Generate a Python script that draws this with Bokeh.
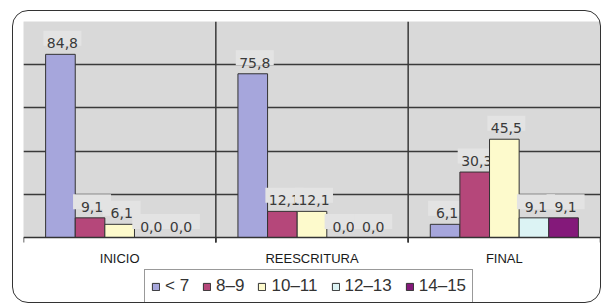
from bokeh.plotting import figure
from bokeh.models import (Range1d, FixedTicker, Legend, LegendItem, ColumnDataSource, Grid,
                          InlineStyleSheet, BoxAnnotation, Span)
from bokeh.transform import dodge
from bokeh.core.properties import value
from bokeh.embed import file_html
from bokeh.resources import INLINE

categories = ["INICIO", "REESCRITURA", "FINAL"]
series_names = ["< 7", "8–9", "10–11", "12–13", "14–15"]
s_lt7 = [84.8, 75.8, 6.1]
s_8_9 = [9.1, 12.1, 30.3]
s_10_11 = [6.1, 12.1, 45.5]
s_12_13 = [0.0, 0.0, 9.1]
s_14_15 = [0.0, 0.0, 9.1]
series_values = [s_lt7, s_8_9, s_10_11, s_12_13, s_14_15]
colors = ["#a6a6dc", "#b5477a", "#fdfacc", "#dcf3f4", "#84197a"]
y_grid_ticks = [20, 40, 60, 80]
y_max = 100

# layout (pixels)
W, H = 601, 305
frame_left, frame_top, frame_right = 23, 21, 600
axis_px = 237
px_per_unit = (axis_px - frame_top) / y_max
px_per_cat = (frame_right - frame_left) / len(categories)
y_min = -(H - axis_px) / px_per_unit
tick_units = 5 / px_per_unit
label_bg_units = 16 / px_per_unit
label_dx = 2 / px_per_cat

centers = [i + 0.5 for i in range(len(categories))]
boundaries = [float(i) for i in range(len(categories) + 1)]
bar_w = 0.154

p = figure(width=W, height=H, x_range=Range1d(0, len(categories)), y_range=Range1d(y_min, y_max),
           output_backend="svg", toolbar_location=None,
           x_axis_location=None, y_axis_location=None,
           min_border_left=frame_left, min_border_right=W - frame_right,
           min_border_top=frame_top, min_border_bottom=0)
p.stylesheets = [InlineStyleSheet(css="""
:host { position: relative; }
:host::after {
  content: ""; position: absolute; left: 12px; top: 10px; right: 0px; bottom: 2px;
  border: 1.5px solid #333333; border-radius: 16px; pointer-events: none; z-index: 10;
}
""")]
p.background_fill_color = "white"
p.border_fill_color = "white"
p.outline_line_color = None
p.grid.visible = False

p.add_layout(BoxAnnotation(bottom=0, fill_color="#d9d9d9", fill_alpha=1,
                           line_color="#b4b4b4", line_width=1, level="underlay"))
p.add_layout(Grid(dimension=1, ticker=FixedTicker(ticks=y_grid_ticks),
                  grid_line_color="#3a3a3a", grid_line_width=1.5))

# category separators and boundary ticks
p.segment(x0=boundaries[1:-1], y0=-tick_units, x1=boundaries[1:-1], y1=y_max,
          line_color="#3a3a3a", line_width=1.5)
p.segment(x0=boundaries, y0=-tick_units, x1=boundaries, y1=0,
          line_color="#333333", line_width=1.5)

items = []
n = len(series_names)
for k, (name, vals, col) in enumerate(zip(series_names, series_values, colors)):
    off = (k - (n - 1) / 2) * bar_w
    src = ColumnDataSource(dict(x=centers, top=vals,
                                label=[f"{v:.1f}".replace(".", ",") for v in vals]))
    r = p.vbar(x=dodge("x", off, range=p.x_range), top="top", width=bar_w, source=src,
               fill_color=col, line_color="#333333", line_width=1)
    p.rect(x=dodge("x", off + label_dx, range=p.x_range),
           y=dodge("top", label_bg_units, range=p.y_range),
           width=38, height=15, width_units="screen", height_units="screen", source=src,
           fill_color="#e3e3e3", line_color=None)
    p.text(x=dodge("x", off + label_dx, range=p.x_range), y="top", text="label", source=src,
           text_align="center", text_baseline="alphabetic", y_offset=-11,
           text_font=value("DejaVu Sans"), text_font_size="14px", text_color="#3a3a3a")
    items.append(LegendItem(label=name, renderers=[r]))

# x axis line and category labels
p.add_layout(Span(location=0, dimension="width", line_color="#333333", line_width=1.5))
cat_src = ColumnDataSource(dict(x=centers, cat=categories))
p.text(x="x", y=0, text="cat", source=cat_src, text_align="center",
       text_baseline="middle", y_offset=21, text_font=value("Liberation Sans"),
       text_font_size="13px", text_color="#1a1a1a")

legend = Legend(items=items, orientation="horizontal", location=(121, 2),
                glyph_width=9, glyph_height=9, label_standoff=5, spacing=13,
                padding=6, margin=0, label_height=19,
                label_text_font="Liberation Sans", label_text_font_size="17px",
                label_text_color="#333333", border_line_color="#333333",
                border_line_width=1, background_fill_color="white",
                background_fill_alpha=1)
p.add_layout(legend)

open("out.html", "w").write(file_html(p, INLINE))
